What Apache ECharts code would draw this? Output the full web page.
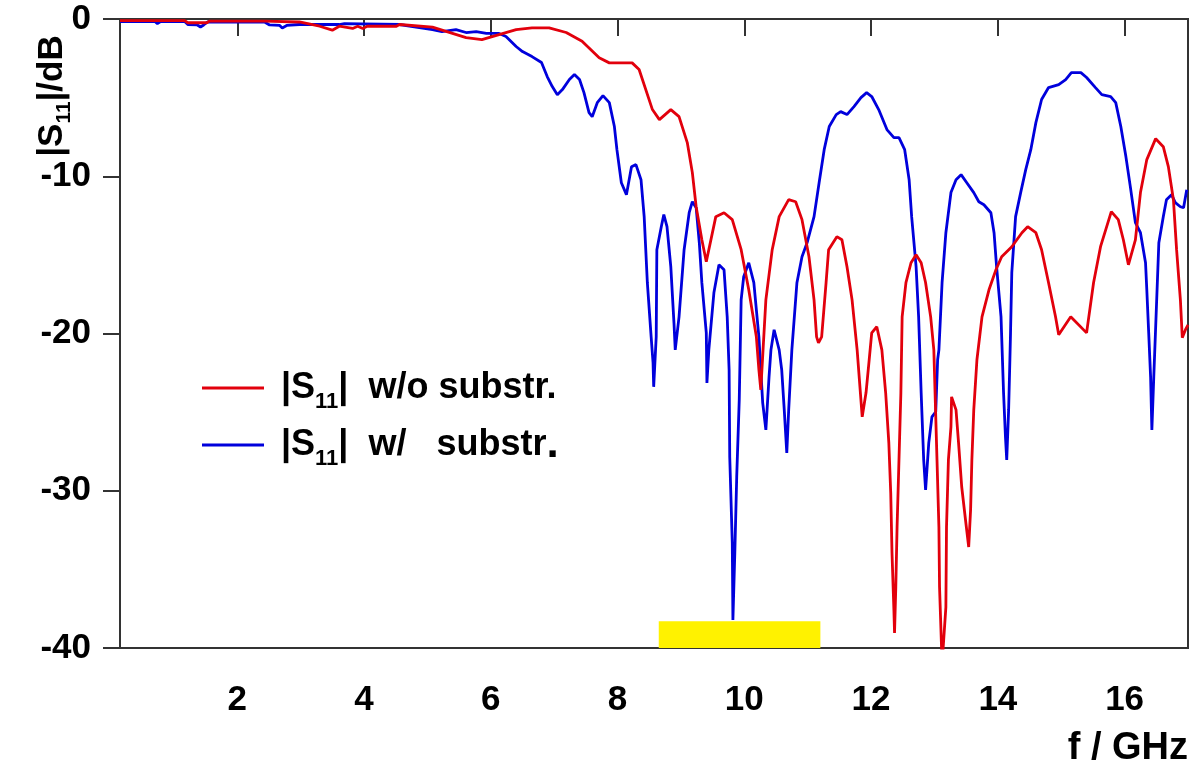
<!DOCTYPE html>
<html>
<head>
<meta charset="utf-8">
<script src="https://cdn.jsdelivr.net/npm/echarts@6/dist/echarts.min.js"></script>
<style>
  html, body { margin: 0; padding: 0; background: #ffffff; }
  #chart { width: 1202px; height: 763px; }
</style>
</head>
<body>
<div id="chart"></div>
<script>
// Reflection coefficient |S11| in dB versus frequency in GHz
const seriesNames = ['|S11| w/o substr.', '|S11| w/ substr.'];

// without substrate: [f / GHz, |S11| / dB]
const s11NoSubstrate = [
  [0.15,-0.10],[1.17,-0.10],[1.22,-0.24],[1.52,-0.24],[1.56,-0.13],[2.43,-0.13],
  [2.98,-0.19],[3.30,-0.46],[3.50,-0.71],[3.61,-0.46],[3.82,-0.60],[3.90,-0.46],
  [3.98,-0.60],[4.05,-0.46],[4.51,-0.46],[4.56,-0.35],[5.08,-0.52],[5.61,-1.18],
  [5.86,-1.31],[6.13,-0.99],[6.40,-0.67],[6.65,-0.56],[6.92,-0.56],[7.19,-0.86],
  [7.44,-1.41],[7.71,-2.47],[7.87,-2.79],[8.23,-2.79],[8.34,-3.21],[8.55,-5.76],
  [8.66,-6.40],[8.84,-5.76],[8.97,-6.21],[9.10,-7.86],[9.18,-9.77],[9.24,-11.94],
  [9.33,-14.04],[9.40,-15.44],[9.55,-12.57],[9.68,-12.32],[9.81,-12.76],[9.95,-14.67],
  [10.07,-17.22],[10.19,-20.21],[10.23,-22.31],[10.26,-23.58],[10.34,-17.86],[10.44,-14.67],
  [10.55,-12.57],[10.70,-11.49],[10.81,-11.62],[10.91,-12.76],[11.02,-15.12],[11.10,-17.86],
  [11.14,-20.21],[11.17,-20.59],[11.22,-20.21],[11.29,-16.77],[11.33,-14.67],[11.46,-13.84],
  [11.54,-14.04],[11.62,-15.75],[11.70,-17.86],[11.78,-21.04],[11.86,-25.30],[11.92,-23.77],
  [11.97,-21.67],[12.01,-19.96],[12.09,-19.57],[12.17,-21.04],[12.23,-23.77],[12.28,-26.96],
  [12.31,-30.14],[12.33,-33.96],[12.36,-37.59],[12.37,-39.05],[12.39,-36.12],[12.41,-32.30],
  [12.44,-28.04],[12.47,-23.77],[12.49,-18.94],[12.55,-16.77],[12.63,-15.50],[12.71,-14.99],
  [12.79,-15.50],[12.86,-16.77],[12.94,-18.94],[12.99,-21.04],[13.04,-28.04],[13.07,-32.30],
  [13.08,-36.12],[13.12,-41.00],[13.18,-37.40],[13.19,-32.30],[13.22,-28.04],[13.26,-25.94],
  [13.27,-24.03],[13.34,-24.86],[13.38,-26.96],[13.43,-29.76],[13.49,-31.86],[13.54,-33.58],
  [13.57,-31.22],[13.59,-28.04],[13.62,-24.86],[13.67,-21.67],[13.75,-18.94],[13.86,-17.22],
  [13.97,-15.95],[14.06,-15.12],[14.22,-14.48],[14.38,-13.59],[14.47,-13.21],[14.60,-13.59],
  [14.69,-14.67],[14.80,-16.77],[14.91,-18.94],[14.96,-20.08],[15.15,-18.94],[15.40,-19.96],
  [15.51,-16.77],[15.62,-14.48],[15.79,-12.25],[15.90,-12.76],[15.98,-14.04],[16.06,-15.63],
  [16.17,-14.04],[16.25,-11.04],[16.35,-8.94],[16.49,-7.61],[16.61,-8.12],[16.69,-9.39],
  [16.77,-11.49],[16.82,-14.67],[16.88,-17.86],[16.91,-20.27],[16.96,-19.76],[17.00,-19.45]
];

// with substrate: [f / GHz, |S11| / dB]
const s11WithSubstrate = [
  [0.15,-0.16],[0.70,-0.16],[0.74,-0.29],[0.79,-0.16],[1.17,-0.16],[1.22,-0.35],
  [1.37,-0.38],[1.42,-0.51],[1.47,-0.38],[1.53,-0.19],[2.43,-0.19],[2.51,-0.38],
  [2.67,-0.41],[2.71,-0.57],[2.78,-0.41],[2.98,-0.35],[3.61,-0.35],[3.69,-0.29],
  [4.56,-0.35],[5.08,-0.67],[5.23,-0.80],[5.45,-0.67],[5.61,-0.86],[5.77,-0.80],
  [5.93,-0.92],[6.13,-0.92],[6.24,-1.11],[6.40,-1.75],[6.50,-2.07],[6.65,-2.39],
  [6.80,-2.77],[6.89,-3.66],[6.97,-4.30],[7.05,-4.81],[7.13,-4.49],[7.24,-3.85],
  [7.32,-3.53],[7.40,-3.85],[7.47,-4.68],[7.55,-5.95],[7.60,-6.21],[7.68,-5.32],
  [7.77,-4.87],[7.87,-5.32],[7.95,-6.84],[7.99,-8.31],[8.06,-10.41],[8.14,-11.17],
  [8.22,-9.39],[8.29,-9.26],[8.37,-10.22],[8.42,-12.57],[8.47,-16.77],[8.53,-20.21],
  [8.56,-21.86],[8.57,-23.39],[8.61,-20.21],[8.62,-14.67],[8.69,-13.21],[8.73,-12.44],
  [8.78,-13.21],[8.84,-15.75],[8.89,-19.32],[8.91,-21.04],[8.97,-18.94],[9.05,-14.67],
  [9.13,-12.32],[9.18,-11.62],[9.24,-12.00],[9.29,-14.23],[9.33,-16.77],[9.40,-19.96],
  [9.41,-23.14],[9.44,-21.04],[9.52,-17.41],[9.60,-15.63],[9.68,-15.95],[9.73,-18.94],
  [9.76,-22.31],[9.77,-27.85],[9.81,-33.32],[9.82,-38.22],[9.85,-33.96],[9.88,-29.12],
  [9.92,-24.22],[9.95,-17.86],[9.99,-16.39],[10.07,-15.50],[10.15,-16.77],[10.23,-20.21],
  [10.29,-24.41],[10.34,-26.13],[10.39,-22.76],[10.42,-21.04],[10.47,-19.76],[10.55,-21.04],
  [10.59,-22.31],[10.63,-24.86],[10.67,-27.60],[10.70,-24.86],[10.75,-21.04],[10.83,-16.77],
  [10.91,-15.12],[10.99,-14.23],[11.10,-12.57],[11.18,-10.41],[11.26,-8.31],[11.34,-6.84],
  [11.45,-6.08],[11.52,-5.89],[11.62,-6.08],[11.73,-5.57],[11.84,-5.00],[11.93,-4.68],
  [12.01,-4.93],[12.12,-5.76],[12.25,-7.03],[12.36,-7.54],[12.44,-7.54],[12.53,-8.31],
  [12.60,-10.22],[12.64,-12.57],[12.71,-15.75],[12.75,-18.94],[12.79,-23.77],[12.83,-28.04],
  [12.86,-29.95],[12.91,-26.96],[12.96,-25.30],[13.02,-24.98],[13.05,-21.67],[13.07,-21.04],
  [13.12,-16.77],[13.18,-13.59],[13.26,-11.04],[13.34,-10.22],[13.42,-9.90],[13.51,-10.41],
  [13.62,-11.04],[13.70,-11.62],[13.78,-11.81],[13.89,-12.32],[13.94,-13.59],[13.98,-15.75],
  [14.05,-18.94],[14.09,-23.77],[14.12,-26.57],[14.14,-28.04],[14.17,-24.86],[14.19,-21.67],
  [14.20,-19.96],[14.22,-16.13],[14.28,-12.57],[14.36,-11.04],[14.44,-9.58],[14.52,-8.31],
  [14.60,-6.59],[14.69,-5.12],[14.80,-4.36],[14.96,-4.17],[15.07,-3.85],[15.16,-3.41],
  [15.31,-3.41],[15.40,-3.72],[15.54,-4.36],[15.64,-4.81],[15.78,-4.93],[15.86,-5.32],
  [15.94,-6.84],[16.02,-8.75],[16.09,-10.66],[16.17,-12.95],[16.25,-13.59],[16.33,-15.50],
  [16.35,-17.22],[16.38,-19.96],[16.41,-22.76],[16.43,-26.13],[16.46,-22.76],[16.49,-19.57],
  [16.54,-14.23],[16.61,-12.57],[16.66,-11.49],[16.74,-11.17],[16.80,-11.68],[16.88,-11.94],
  [16.93,-12.00],[16.98,-10.86]
];

// axis ranges and tick labels
const freqRange = [0.15, 17];
const freqTicks = [2, 4, 6, 8, 10, 12, 14, 16];
const dbRange = [-40, 0];
const dbStep = 10;

// highlighted frequency band (yellow bar on the bottom axis)
const bandFreq = [8.65, 11.2];
const bandDb = [-40, -38.3];

const lineColors = ['#e2000c', '#0000dc'];
const textFont = "'Liberation Sans', Arial, sans-serif";

const chart = echarts.init(document.getElementById('chart'), null, { renderer: 'canvas' });

const base = { fontFamily: textFont, fontWeight: 'bold', color: '#000', lineHeight: 50 };
const legendRich = {
  bar: Object.assign({ fontSize: 36, verticalAlign: 'middle' }, base),
  s: Object.assign({ fontSize: 36, verticalAlign: 'middle' }, base),
  sub: Object.assign({ fontSize: 22, verticalAlign: 'bottom' }, base),
  t: Object.assign({ fontSize: 36, verticalAlign: 'middle' }, base),
  dot: Object.assign({ fontSize: 44, verticalAlign: 'middle' }, base)
};

function legendLabel(name) {
  const rest = name.replace('|S11| ', '');
  if (rest === 'w/ substr.') {
    return '{bar||}{s|S}{sub|11}{bar||}{t|  w/   substr}{dot|.}';
  }
  return '{bar||}{s|S}{sub|11}{bar||}{t|  ' + rest + '}';
}

chart.setOption({
  animation: false,
  backgroundColor: '#ffffff',
  grid: { left: 120, right: 14, top: 19, bottom: 115, show: true, borderColor: '#333', borderWidth: 2, backgroundColor: 'transparent' },
  xAxis: {
    type: 'value',
    min: freqRange[0],
    max: freqRange[1],
    axisLine: { show: true, lineStyle: { color: '#333', width: 2 } },
    axisTick: { show: true, inside: false, length: 17, customValues: freqTicks, lineStyle: { color: '#333', width: 2 } },
    axisLabel: { customValues: freqTicks, margin: 35, fontFamily: textFont, fontWeight: 'bold', fontSize: 35, color: '#000' },
    splitLine: { show: false }
  },
  yAxis: {
    type: 'value',
    min: dbRange[0],
    max: dbRange[1],
    interval: dbStep,
    axisLine: { show: true, onZero: false, lineStyle: { color: '#333', width: 2 } },
    axisTick: { show: true, inside: false, length: 17, lineStyle: { color: '#333', width: 2 } },
    axisLabel: { margin: 29, fontFamily: textFont, fontWeight: 'bold', fontSize: 35, color: '#000' },
    splitLine: { show: false }
  },
  legend: {
    orient: 'vertical',
    left: 202,
    top: 370,
    padding: 0,
    icon: 'rect',
    itemWidth: 62,
    itemHeight: 3,
    itemGap: 10,
    selectedMode: false,
    data: seriesNames,
    formatter: legendLabel,
    textStyle: { rich: legendRich, padding: [0, 0, 0, 12] }
  },
  graphic: [
    {
      type: 'text',
      x: 52, y: 96,
      rotation: Math.PI / 2,
      style: {
        text: '{a||S}{b|11}{a||/dB}',
        align: 'center',
        verticalAlign: 'middle',
        rich: {
          a: { fontFamily: textFont, fontWeight: 'bold', fontSize: 35, fill: '#000', lineHeight: 46, verticalAlign: 'middle' },
          b: { fontFamily: textFont, fontWeight: 'bold', fontSize: 21, fill: '#000', lineHeight: 46, verticalAlign: 'bottom' }
        }
      }
    },
    {
      type: 'text',
      right: 14,
      top: 730,
      style: { text: 'f / GHz', fontFamily: textFont, fontWeight: 'bold', fontSize: 38, fill: '#000' }
    }
  ],
  series: [
    {
      name: seriesNames[0],
      type: 'line',
      data: s11NoSubstrate,
      showSymbol: false,
      symbol: 'none',
      clip: true,
      z: 3,
      lineStyle: { color: lineColors[0], width: 2.8 },
      itemStyle: { color: lineColors[0] },
      markArea: {
        silent: true,
        itemStyle: { color: '#fff200', opacity: 1 },
        data: [[{ xAxis: bandFreq[0], yAxis: bandDb[0] }, { xAxis: bandFreq[1], yAxis: bandDb[1] }]]
      }
    },
    {
      name: seriesNames[1],
      type: 'line',
      data: s11WithSubstrate,
      showSymbol: false,
      symbol: 'none',
      clip: true,
      z: 2,
      lineStyle: { color: lineColors[1], width: 2.8 },
      itemStyle: { color: lineColors[1] }
    }
  ]
});
</script>
</body>
</html>
